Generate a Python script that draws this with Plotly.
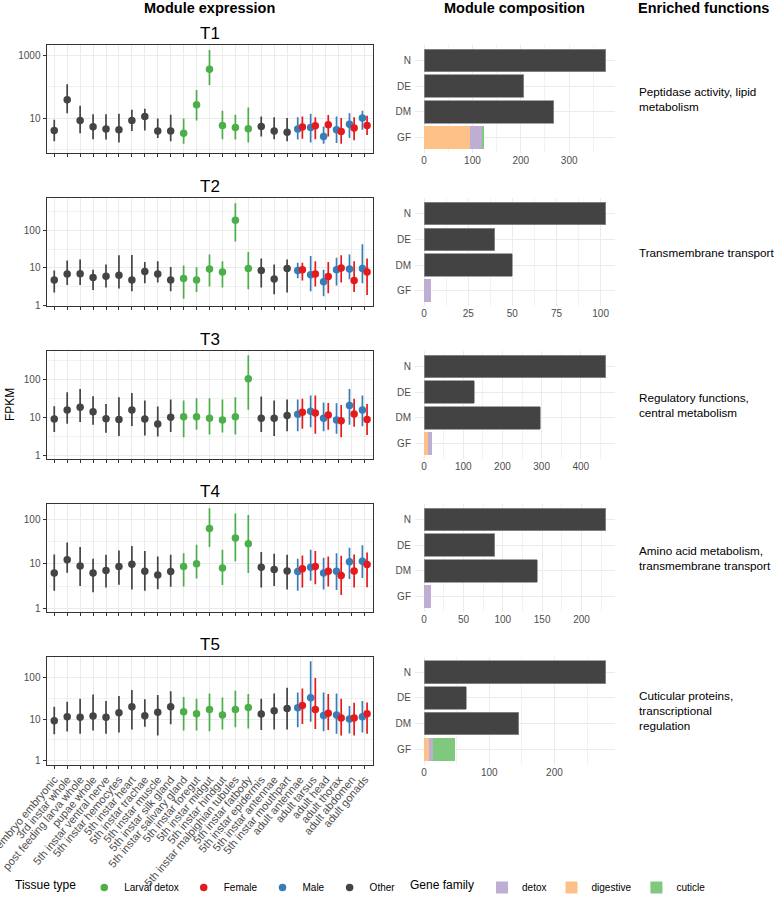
import plotly.graph_objects as go

# ---------------- data ----------------
tissues = ["embryo embryonic", "3rd instar whole", "post feeding larva whole", "pupae whole",
           "5th instar ventral nerve", "5th instar hemocytes", "5th instar heart", "5th instar trachae",
           "5th instar muscle", "5th instar silk gland", "5th instar salivary gland", "5th instar foregut",
           "5th instar midgut", "5th instar hindgut", "5th instar malpighian tubules", "5th instar fatbody",
           "5th instar epidermis", "5th instar antennae", "5th instar mouthpart", "adult antennae",
           "adult tarsus", "adult head", "adult thorax", "adult abdomen", "adult gonads"]

# 31 samples: 19 larval/whole tissues, then 6 adult male, then 6 adult female
sample_tissue = tissues[:19] + tissues[19:] + tissues[19:]
sample_group = (["Other"] * 10 + ["Larval detox"] * 6 + ["Other"] * 3
                + ["Male"] * 6 + ["Female"] * 6)

modules = ["T1", "T2", "T3", "T4", "T5"]

T1_fpkm = [4.0, 38.5, 8.4, 5.3, 4.5, 4.2, 8.4, 11.3, 3.9, 3.9, 3.3, 26.6, 364, 5.8, 5.0, 4.6, 5.4, 3.85, 3.5,
           4.45, 5.0, 2.6, 4.2, 6.4, 10, 5.2, 5.7, 6.1, 3.75, 4.8, 5.8]
T1_low = [1.8, 14.4, 3.3, 2.1, 2.05, 1.67, 3.9, 4.0, 2.3, 1.8, 1.5, 8.4, 115, 2.1, 2.05, 1.67, 2.6, 2.1, 1.8,
          2.05, 1.67, 1.5, 1.6, 2.3, 4.2, 2.2, 2.1, 2.6, 1.5, 1.95, 2.9]
T1_high = [8.8, 122, 24.7, 13.4, 13.4, 13.8, 18.5, 19.8, 9.8, 12.8, 9.8, 80, 1520, 17.2, 12.8, 21.9, 11.3, 10.7, 10,
           10.7, 13.8, 5.4, 11.3, 14.4, 17.2, 11.3, 10.7, 12.5, 10, 10.7, 11.9]

T2_fpkm = [4.8, 6.9, 7.0, 5.6, 6.0, 6.4, 4.8, 8.1, 6.9, 4.8, 5.2, 4.8, 9.4, 7.8, 186, 9.6, 8.6, 5.1, 9.6,
           8.6, 6.6, 4.3, 9.0, 9.4, 9.6, 9.0, 6.9, 5.9, 10, 4.6, 7.8]
T2_low = [2.2, 3.5, 3.5, 2.6, 3.0, 2.85, 2.4, 3.9, 4.1, 2.4, 1.5, 2.3, 3.2, 3.0, 51, 2.7, 3.0, 2.0, 2.2,
          5.3, 2.4, 1.76, 3.4, 5.0, 3.9, 4.6, 3.2, 2.1, 4.1, 2.3, 1.9]
T2_high = [8.6, 15.8, 16.9, 9.0, 12.3, 21.7, 22, 14.3, 15.2, 10.6, 11.6, 10.4, 23, 15.2, 530, 26.7, 18, 12.3, 16.9,
           13.7, 20.8, 9.0, 18.7, 23, 43, 13.7, 15.2, 14.3, 21.7, 15.2, 18]

T3_fpkm = [9.0, 15.7, 18.4, 14.1, 9.2, 8.7, 15.7, 9.0, 6.7, 10, 10.4, 10.4, 9.4, 8.5, 10.4, 104, 9.4, 9.4, 11.1,
           12.0, 14.4, 9.4, 8.5, 20.4, 15.7, 13.6, 13.0, 11.5, 8.1, 12.3, 8.7]
T3_low = [4.1, 6.8, 7.5, 6.4, 3.9, 3.2, 5.9, 3.3, 3.1, 4.1, 3.0, 4.7, 3.5, 4.0, 3.5, 15.9, 4.1, 3.2, 4.3,
          4.3, 5.5, 4.3, 3.7, 6.4, 5.8, 5.0, 3.7, 4.7, 3.0, 5.6, 3.4]
T3_high = [19.6, 46, 56, 36, 22.6, 34, 44, 27.6, 19.2, 29.5, 27.6, 32, 32, 29.5, 34, 435, 35.4, 27.6, 29.5,
           29.5, 37.6, 24.5, 23.5, 56, 37.6, 30.7, 37.6, 24, 21, 30.7, 22.6]

T4_fpkm = [6.25, 12.3, 8.9, 6.25, 7.1, 8.7, 9.8, 6.8, 5.6, 6.7, 8.7, 10, 62, 8.1, 38, 28.4, 8.4, 7.5, 6.9,
           6.7, 8.4, 6.2, 6.8, 11.1, 11.5, 7.8, 8.7, 6.8, 5.5, 6.9, 9.7]
T4_low = [2.5, 6.3, 3.2, 2.3, 2.95, 3.4, 2.67, 2.5, 2.7, 3.07, 3.1, 4.7, 23.8, 3.35, 11.5, 6.2, 2.95, 3.2, 2.67,
          2.5, 4.2, 2.67, 2.6, 4.6, 4.8, 2.95, 3.5, 3.1, 2.0, 2.95, 3.0]
T4_high = [16.3, 30, 23.8, 13, 16, 20, 25.1, 19.4, 14.7, 16, 17.4, 27, 176, 20.7, 135, 124, 18.4, 16.8, 16,
           13, 20.7, 13.7, 17.4, 23, 26, 15.4, 19.4, 14.7, 15.2, 16.3, 18]

T5_fpkm = [9.1, 11.4, 11, 11.8, 11, 14.2, 19.8, 12.0, 14.5, 19.8, 15, 13.4, 17, 12.5, 17, 19, 13.2, 15.8, 18,
           18.7, 32.5, 12.2, 12.5, 10, 11.4, 21.3, 17, 13.7, 10.6, 10.6, 13.4]
T5_low = [4.3, 5.0, 4.4, 5.25, 4.4, 4.7, 5.6, 6.5, 4.0, 7.45, 5.25, 5.25, 5.1, 5.6, 6.3, 5.9, 5.4, 5.6, 5.6,
          6.3, 8.6, 5.1, 4.4, 4.5, 4.7, 7.6, 5.75, 5.4, 4.0, 4.0, 4.4]
T5_high = [19.8, 26, 31, 39, 27, 36, 50, 30, 37.7, 47, 34, 31, 41, 33, 48, 40, 31, 41, 56.5,
           43.6, 246, 43.6, 41, 20.5, 27, 54.5, 98, 40, 31, 24.7, 25]

# module composition
comp_cats = ["N", "DE", "DM"]
T1_counts = [376, 206, 268]
T2_counts = [103, 40, 50]
T3_counts = [464, 128, 297]
T4_counts = [231, 90, 144]
T5_counts = [279, 65, 145]

families = ["digestive", "detox", "cuticle"]          # stacking order
T1_family = [94, 27, 3]
T2_family = [0, 4, 0]
T3_family = [10, 10, 0]
T4_family = [0, 9, 0]
T5_family = [7, 7, 33]

functions = ["Peptidase activity, lipid<br>metabolism",
             "Transmembrane transport",
             "Regulatory functions,<br>central metabolism",
             "Amino acid metabolism,<br>transmembrane transport",
             "Cuticular proteins,<br>transcriptional<br>regulation"]

y_ticks = [[10, 1000], [1, 10, 100], [1, 10, 100], [1, 10, 100], [1, 10, 100]]
bar_dticks = [100, 25, 100, 50, 100]

fpkm = [T1_fpkm, T2_fpkm, T3_fpkm, T4_fpkm, T5_fpkm]
low = [T1_low, T2_low, T3_low, T4_low, T5_low]
high = [T1_high, T2_high, T3_high, T4_high, T5_high]
counts = [T1_counts, T2_counts, T3_counts, T4_counts, T5_counts]
fam = [T1_family, T2_family, T3_family, T4_family, T5_family]

# ---------------- style ----------------
FONT = "Liberation Sans, Arial, Helvetica, sans-serif"
group_colors = {"Larval detox": "#4DAF4A", "Female": "#E41A1C", "Male": "#377EB8", "Other": "#444444"}
group_rank = {"Larval detox": 1, "Female": 2, "Male": 3, "Other": 4}
group_dodge = {"Larval detox": 0.0, "Female": 0.18, "Male": -0.18, "Other": 0.0}
family_colors = {"detox": "#BEAED4", "digestive": "#FDC086", "cuticle": "#7FC97F"}
family_rank = {"detox": 11, "digestive": 12, "cuticle": 13}
y_ranges = [[-0.117, 3.34], [-0.02, 2.86], [-0.1, 2.75], [-0.08, 2.343], [-0.104, 2.5]]

W, H = 774, 902
def fx(p): return p / W
def fy(p): return 1 - p / H

tops = [45, 198.2, 351, 504, 656.8]
PH = 108
LX = (46.5, 372.5)
BX = (415, 615)
GRID = "#EBEBEB"
TICKC = "#4D4D4D"

fig = go.Figure()
layout = dict(
    width=W, height=H, template="none",
    margin=dict(l=0, r=0, t=0, b=0),
    paper_bgcolor="white", plot_bgcolor="white",
    font=dict(family=FONT, color="black"),
    barmode="stack", bargap=0.1,
    showlegend=True,
)
annotations = []

for i, mod in enumerate(modules):
    n = 2 * i + 1
    nb = n + 1
    top = tops[i]
    ydom = [fy(top + PH), fy(top)]

    # --- expression panel
    for g in ["Other", "Larval detox", "Male", "Female"]:
        idx = [k for k, gg in enumerate(sample_group) if gg == g]
        xs = [tissues.index(sample_tissue[k]) + 1 + group_dodge[g] for k in idx]
        ys = [fpkm[i][k] for k in idx]
        plus = [high[i][k] - fpkm[i][k] for k in idx]
        minus = [fpkm[i][k] - low[i][k] for k in idx]
        fig.add_trace(go.Scatter(
            x=xs, y=ys, mode="markers", name=g,
            marker=dict(color=group_colors[g], size=7.5),
            error_y=dict(type="data", symmetric=False, array=plus, arrayminus=minus,
                         thickness=1.7, width=0, color=group_colors[g]),
            xaxis=f"x{n}", yaxis=f"y{n}",
            showlegend=(i == 0), legendrank=group_rank[g], legend="legend",
        ))
    yt = y_ticks[i]
    if i == 0:
        minor_vals = [1, 100]
    else:
        minor_vals = [10 ** 0.5, 10 ** 1.5, 10 ** 2.5]
    layout[f"xaxis{n}"] = dict(
        domain=[fx(LX[0]), fx(LX[1])], anchor=f"y{n}", range=[0.4, 25.6],
        tickmode="array", tickvals=list(range(1, 26)), ticktext=tissues,
        showticklabels=(i == 4), tickangle=-50, ticklabeloverflow="allow",
        tickfont=dict(size=11, color=TICKC, family=FONT),
        showgrid=True, gridcolor=GRID, gridwidth=1, zeroline=False,
        showline=True, mirror=True, linecolor="#333333", linewidth=1,
        ticks="outside", ticklen=3, tickcolor="#333333", automargin=False,
    )
    layout[f"yaxis{n}"] = dict(
        domain=ydom, anchor=f"x{n}", type="log", range=y_ranges[i],
        tickmode="array", tickvals=yt, ticktext=[str(v) for v in yt],
        tickfont=dict(size=10, color=TICKC, family=FONT),
        showgrid=True, gridcolor=GRID, gridwidth=1, zeroline=False,
        minor=dict(tickmode="array", tickvals=minor_vals, showgrid=True,
                   gridcolor="#F2F2F2", gridwidth=0.6, ticks=""),
        showline=True, mirror=True, linecolor="#333333", linewidth=1,
        ticks="outside", ticklen=3, tickcolor="#333333", automargin=False,
    )
    annotations.append(dict(text=mod, x=fx((LX[0] + LX[1]) / 2), y=fy(top - 12),
                            xref="paper", yref="paper", showarrow=False,
                            xanchor="center", yanchor="middle",
                            font=dict(size=17, color="black", family=FONT)))

    # --- composition panel
    fig.add_trace(go.Bar(
        y=comp_cats, x=counts[i], orientation="h", width=0.88,
        marker=dict(color="#434343", line=dict(color="#8f8f8f", width=0.8)),
        xaxis=f"x{nb}", yaxis=f"y{nb}", showlegend=False, name=mod,
    ))
    for f_name, val in zip(families, fam[i]):
        fig.add_trace(go.Bar(
            y=["GF"], x=[val], orientation="h", width=0.88, name=f_name,
            marker=dict(color=family_colors[f_name], line=dict(width=0)),
            xaxis=f"x{nb}", yaxis=f"y{nb}",
            showlegend=(i == 0), legend="legend2", legendrank=family_rank[f_name],
        ))
    nmax = max(counts[i][0], sum(fam[i]))
    dt = bar_dticks[i]
    layout[f"xaxis{nb}"] = dict(
        domain=[fx(BX[0]), fx(BX[1])], anchor=f"y{nb}",
        range=[-0.05 * nmax, 1.05 * nmax],
        tick0=0, dtick=dt, tickfont=dict(size=10, color=TICKC, family=FONT),
        showgrid=True, gridcolor=GRID, gridwidth=1, zeroline=False,
        minor=dict(tick0=0, dtick=dt / 2, showgrid=True, gridcolor="#F2F2F2", gridwidth=0.6, ticks=""),
        showline=False, ticks="", automargin=False,
    )
    layout[f"yaxis{nb}"] = dict(
        domain=ydom, anchor=f"x{nb}", type="category",
        categoryorder="array", categoryarray=["GF", "DM", "DE", "N"],
        range=[-0.6, 3.6], tickfont=dict(size=10, color=TICKC, family=FONT),
        showgrid=True, gridcolor=GRID, gridwidth=1, zeroline=False,
        showline=False, ticks="", ticklabelstandoff=3, automargin=False,
    )

    # --- enriched functions
    annotations.append(dict(text=functions[i], x=fx(637), y=fy(top + PH / 2),
                            xref="paper", yref="paper", showarrow=False,
                            xanchor="left", yanchor="middle", align="left",
                            font=dict(size=11.7, color="black", family=FONT)))

# headers
for txt, cx in [("Module expression", 209.5), ("Module composition", 514), ("Enriched functions", 703)]:
    annotations.append(dict(text=f"<b>{txt}</b>", x=fx(cx), y=fy(8), xref="paper", yref="paper",
                            showarrow=False, xanchor="center", yanchor="middle",
                            font=dict(size=14.5, color="black", family=FONT)))
annotations.append(dict(text="FPKM", x=fx(10), y=fy(405), xref="paper", yref="paper",
                        showarrow=False, textangle=-90, xanchor="center", yanchor="middle",
                        font=dict(size=12, color="black", family=FONT)))

layout["annotations"] = annotations
layout["legend"] = dict(orientation="h", x=fx(13), y=0, xanchor="left", yanchor="bottom",
                        title=dict(text="Tissue type", side="left", font=dict(size=12, family=FONT)),
                        font=dict(size=10, family=FONT), bgcolor="rgba(0,0,0,0)",
                        traceorder="normal", itemclick=False)
layout["legend2"] = dict(orientation="h", x=fx(408), y=0, xanchor="left", yanchor="bottom",
                         title=dict(text="Gene family", side="left", font=dict(size=12, family=FONT)),
                         font=dict(size=10, family=FONT), bgcolor="rgba(0,0,0,0)",
                         traceorder="normal", itemclick=False)

fig.update_layout(**layout)
fig.write_html("out.html", config={"displayModeBar": False},
               post_script="document.body.style.margin='0';document.body.style.overflow='hidden';")
